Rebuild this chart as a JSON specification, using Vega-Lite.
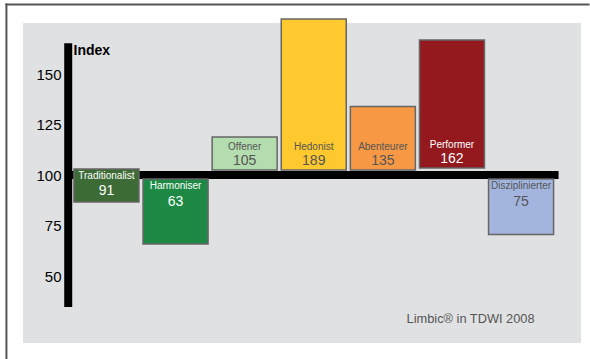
{
  "$schema": "https://vega.github.io/schema/vega-lite/v6.json",
  "width": 558,
  "height": 320,
  "autosize": {"type": "none"},
  "padding": {"left": 23, "top": 23, "right": 9, "bottom": 16},
  "background": "#ffffff",
  "config": {
    "view": {"fill": "#e0e1e3", "stroke": null},
    "font": "Liberation Sans"
  },
  "data": {
    "values": [
      {"segment": "Traditionalist", "index": 91, "from": 103.1, "to": 86.75},
      {"segment": "Harmoniser", "index": 63, "from": 98.1, "to": 66.0},
      {"segment": "Offener", "index": 105, "from": 102.6, "to": 118.9},
      {"segment": "Hedonist", "index": 189, "from": 102.6, "to": 177.2},
      {"segment": "Abenteurer", "index": 135, "from": 102.6, "to": 134.0},
      {"segment": "Performer", "index": 162, "from": 103.6, "to": 166.8},
      {"segment": "Disziplinierter", "index": 75, "from": 98.1, "to": 70.7}
    ]
  },
  "layer": [
    {
      "data": {"values": [{}]},
      "mark": {"type": "rect", "color": "#555555", "strokeWidth": 0},
      "encoding": {
        "x": {"datum": "Traditionalist", "type": "nominal", "bandPosition": -1.054, "axis": null},
        "x2": {"datum": "Disziplinierter", "bandPosition": 1.554},
        "y": {"datum": 184.87, "type": "quantitative"},
        "y2": {"datum": 183.89}
      }
    },
    {
      "data": {"values": [{}]},
      "mark": {"type": "rect", "color": "#555555", "strokeWidth": 0},
      "encoding": {
        "x": {"datum": "Traditionalist", "type": "nominal", "bandPosition": -1.054, "axis": null},
        "x2": {"datum": "Traditionalist", "bandPosition": -1.023},
        "y": {"datum": 184.87, "type": "quantitative"},
        "y2": {"datum": 9.2}
      }
    },
    {
      "data": {"values": [{}]},
      "mark": {"type": "rule", "color": "#000000", "strokeWidth": 8, "strokeCap": "butt"},
      "encoding": {
        "x": {"datum": "Traditionalist", "type": "nominal", "bandPosition": -0.031, "axis": null},
        "x2": {"datum": "Disziplinierter", "bandPosition": 1.077},
        "y": {"datum": 100.1, "type": "quantitative"}
      }
    },
    {
      "data": {"values": [{}]},
      "mark": {"type": "rule", "color": "#000000", "strokeWidth": 8, "strokeCap": "butt"},
      "encoding": {
        "x": {"datum": "Traditionalist", "type": "nominal", "bandPosition": -0.088, "axis": null},
        "y": {"datum": 165.2, "type": "quantitative"},
        "y2": {"datum": 34.85}
      }
    },
    {
      "mark": {"type": "bar", "stroke": "#666666", "strokeWidth": 1.5},
      "encoding": {
        "x": {
          "field": "segment",
          "type": "nominal",
          "sort": null,
          "axis": null,
          "scale": {
            "type": "band",
            "domain": ["Traditionalist", "Harmoniser", "Offener", "Hedonist", "Abenteurer", "Performer", "Disziplinierter"],
            "paddingInner": 0.0593,
            "paddingOuter": 0.567,
            "align": 0.65
          }
        },
        "y": {
          "field": "from",
          "type": "quantitative",
          "scale": {"domain": [17.05, 175.24], "nice": false, "zero": false},
          "axis": {
            "orient": "left",
            "values": [50, 75, 100, 125, 150],
            "domain": false,
            "ticks": false,
            "tickSize": 0,
            "grid": false,
            "labelPadding": -38,
            "labelAlign": "right",
            "labelFontSize": 15,
            "labelColor": "#000000",
            "title": "Index",
            "titleAngle": 0,
            "titleAlign": "left",
            "titleBaseline": "alphabetic",
            "titleX": 50,
            "titleY": 31,
            "titleFontSize": 14,
            "titleFontWeight": "bold",
            "titleColor": "#000000"
          }
        },
        "y2": {"field": "to"},
        "color": {
          "field": "segment",
          "type": "nominal",
          "legend": null,
          "scale": {
            "domain": ["Traditionalist", "Harmoniser", "Offener", "Hedonist", "Abenteurer", "Performer", "Disziplinierter"],
            "range": ["#3d6b35", "#1d8944", "#b3dcaf", "#fec92e", "#f79844", "#93191e", "#a3b5de"]
          }
        }
      }
    },
    {
      "transform": [{"filter": "datum.index >= 100"}],
      "mark": {"type": "text", "fontSize": 10, "baseline": "middle", "dy": -23},
      "encoding": {
        "x": {"field": "segment", "type": "nominal", "axis": null},
        "y": {"field": "from", "type": "quantitative"},
        "text": {"field": "segment"},
        "color": {"condition": {"test": "datum.segment === 'Performer'", "value": "#ffffff"}, "value": "#555555"}
      }
    },
    {
      "transform": [{"filter": "datum.index >= 100"}],
      "mark": {"type": "text", "fontSize": 14, "baseline": "middle", "dy": -8.5},
      "encoding": {
        "x": {"field": "segment", "type": "nominal", "axis": null},
        "y": {"field": "from", "type": "quantitative"},
        "text": {"field": "index"},
        "color": {"condition": {"test": "datum.segment === 'Performer'", "value": "#ffffff"}, "value": "#555555"}
      }
    },
    {
      "transform": [{"filter": "datum.index < 100"}],
      "mark": {"type": "text", "fontSize": 10, "baseline": "middle", "dy": 7},
      "encoding": {
        "x": {"field": "segment", "type": "nominal", "axis": null},
        "y": {"field": "from", "type": "quantitative"},
        "text": {"field": "segment"},
        "color": {"condition": {"test": "datum.segment === 'Disziplinierter'", "value": "#555555"}, "value": "#ffffff"}
      }
    },
    {
      "transform": [{"filter": "datum.index < 100"}],
      "mark": {"type": "text", "fontSize": 14, "baseline": "middle", "dy": 22.5},
      "encoding": {
        "x": {"field": "segment", "type": "nominal", "axis": null},
        "y": {"field": "from", "type": "quantitative"},
        "text": {"field": "index"},
        "color": {"condition": {"test": "datum.segment === 'Disziplinierter'", "value": "#555555"}, "value": "#ffffff"}
      }
    },
    {
      "data": {"values": [{}]},
      "mark": {"type": "text", "fontSize": 12.8, "align": "right", "baseline": "alphabetic", "color": "#555555", "text": "Limbic® in TDWI 2008"},
      "encoding": {
        "x": {"datum": "Disziplinierter", "type": "nominal", "bandPosition": 0.708, "axis": null},
        "y": {"datum": 26.8, "type": "quantitative"}
      }
    }
  ]
}
